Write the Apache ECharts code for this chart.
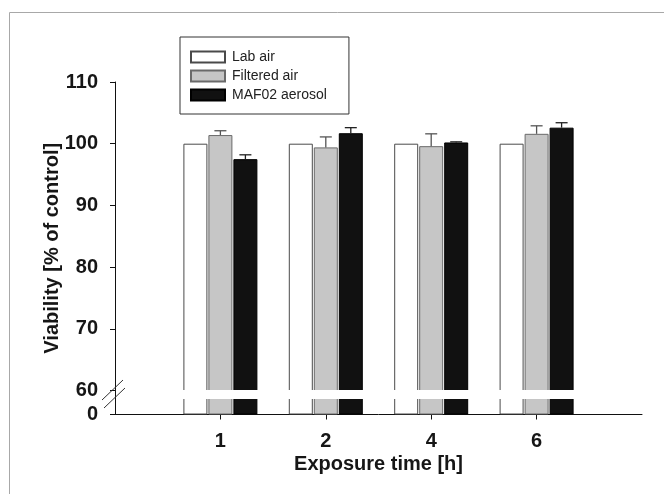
<!DOCTYPE html>
<html>
<head>
<meta charset="utf-8">
<script src="https://cdn.jsdelivr.net/npm/echarts@6/dist/echarts.min.js"></script>
<style>
html,body{margin:0;padding:0;background:#fff;}
#chart{width:664px;height:494px;}
</style>
</head>
<body>
<div id="chart"></div>
<script>
// ---- data ----
const categories = ['1', '2', '4', '6'];
const seriesNames = ['Lab air', 'Filtered air', 'MAF02 aerosol'];
const labAir = [100, 100, 100, 100];
const labAirErr = [0, 0, 0, 0];
const filteredAir = [101.4, 99.4, 99.6, 101.6];
const filteredAirErr = [0.7, 1.7, 2.0, 1.3];
const maf02 = [97.5, 101.7, 100.2, 102.6];
const maf02Err = [0.7, 0.9, 0.1, 0.8];
const yTicksTop = [60, 70, 80, 90, 100, 110];

// ---- styles ----
const FONT = "'Liberation Sans', Arial, sans-serif";
const TXT = '#161616';
const BAR_W = 24;
const BAR_GAP_PX = 1;
const styles = [
  { color: '#ffffff', borderColor: '#4a4a4a', borderWidth: 1 },
  { color: '#c6c6c6', borderColor: '#6a6a6a', borderWidth: 1 },
  { color: '#111111', borderColor: '#000000', borderWidth: 1 }
];
const errColors = ['#444', '#555', '#222'];

const values = [labAir, filteredAir, maf02];
const errs = [labAirErr, filteredAirErr, maf02Err];
// padded category axis (empty slots at both ends)
const xCats = [''].concat(categories, ['']);
const pad = arr => [null].concat(arr, [null]);

const chart = echarts.init(document.getElementById('chart'), null, { renderer: 'canvas' });

const GRID_LEFT = 115, GRID_RIGHT = 22;
const grids = [
  { left: GRID_LEFT, right: GRID_RIGHT, top: 82, height: 308.5 },   // 60-110 part
  { left: GRID_LEFT, right: GRID_RIGHT, top: 390.5, height: 24 },   // 0 part
  { left: GRID_LEFT, right: GRID_RIGHT, top: 82, height: 332.5 }    // carries y title
];

const xAxes = [
  { gridIndex: 0, type: 'category', data: xCats, boundaryGap: false, show: false },
  {
    gridIndex: 1, type: 'category', data: xCats, boundaryGap: false,
    axisLine: { lineStyle: { color: '#111', width: 1 } },
    axisTick: { show: true, length: 5, interval: (i) => i >= 1 && i <= categories.length, lineStyle: { color: '#111' } },
    axisLabel: { interval: 0, margin: 17, fontSize: 20, fontWeight: 'bold', color: TXT, fontFamily: FONT },
    name: 'Exposure time [h]', nameLocation: 'middle', nameGap: 40,
    nameTextStyle: { fontSize: 20, fontWeight: 'bold', color: TXT, fontFamily: FONT },
    splitLine: { show: false }
  },
  { gridIndex: 2, type: 'value', show: false }
];

const yAxes = [
  {
    gridIndex: 0, type: 'value', min: yTicksTop[0], max: yTicksTop[yTicksTop.length - 1], interval: 10,
    axisLine: { show: true, lineStyle: { color: '#111' } },
    axisTick: { show: true, length: 5, lineStyle: { color: '#111' } },
    axisLabel: { margin: 17, fontSize: 20, fontWeight: 'bold', color: TXT, fontFamily: FONT },
    splitLine: { show: false }
  },
  {
    gridIndex: 1, type: 'value', min: 0, max: 1, interval: 1,
    axisLine: { show: true, lineStyle: { color: '#111' } },
    axisTick: { show: true, length: 5, lineStyle: { color: '#111' } },
    axisLabel: { margin: 17, fontSize: 20, fontWeight: 'bold', color: TXT, fontFamily: FONT, showMaxLabel: false,
      formatter: v => (v === 0 ? '0' : '') },
    splitLine: { show: false }
  },
  {
    gridIndex: 2, type: 'value', show: true,
    axisLine: { show: false }, axisTick: { show: false }, axisLabel: { show: false }, splitLine: { show: false },
    name: 'Viability [% of control]', nameLocation: 'middle', nameGap: 53, nameRotate: 90,
    nameTextStyle: { fontSize: 20, fontWeight: 'bold', color: TXT, fontFamily: FONT }
  }
];

const series = [];
// bars in both grids
[0, 1].forEach(g => {
  seriesNames.forEach((name, k) => {
    series.push({
      type: 'bar', name, xAxisIndex: g, yAxisIndex: g,
      data: pad(values[k]),
      barWidth: BAR_W, barGap: (BAR_GAP_PX / BAR_W * 100) + '%',
      itemStyle: styles[k], clip: true,
      emphasis: { disabled: true }, animation: false
    });
  });
});
// error bars (upper only) in top grid
seriesNames.forEach((name, k) => {
  const data = values[k].map((v, i) => [i + 1, v, errs[k][i]]);
  series.push({
    type: 'custom', name: name + ' err', xAxisIndex: 0, yAxisIndex: 0, z: 5,
    data, animation: false, silent: true,
    renderItem: (params, api) => {
      const xi = api.value(0), v = api.value(1), e = api.value(2);
      if (!e) return null;
      const off = (k - 1) * (BAR_W + BAR_GAP_PX);
      const p0 = api.coord([xi, v]);
      const p1 = api.coord([xi, v + e]);
      const x = p0[0] + off;
      const st = { stroke: errColors[k], lineWidth: 1.3 };
      return {
        type: 'group',
        children: [
          { type: 'line', shape: { x1: x, y1: p0[1], x2: x, y2: p1[1] }, style: st },
          { type: 'line', shape: { x1: x - 6, y1: p1[1], x2: x + 6, y2: p1[1] }, style: st }
        ]
      };
    }
  });
});

const option = {
  backgroundColor: '#ffffff',
  animation: false,
  textStyle: { fontFamily: FONT },
  grid: grids,
  xAxis: xAxes,
  yAxis: yAxes,
  legend: {
    data: seriesNames.map(n => ({ name: n, icon: 'rect' })),
    orient: 'vertical',
    left: 180, top: 37,
    padding: [13, 22, 12, 10],
    itemWidth: 34, itemHeight: 11, itemGap: 5,
    borderColor: '#333', borderWidth: 1,
    textStyle: { fontSize: 14, color: '#222', fontFamily: FONT, padding: [0, 0, 0, 2] },
    selectedMode: false
  },
  graphic: [
    { type: 'rect', z: -10, shape: { x: 9.5, y: 12.5, width: 700, height: 600 },
      style: { fill: 'none', stroke: '#a8a8a8', lineWidth: 1 }, silent: true },
    { type: 'rect', z: 100, shape: { x: 116, y: 390, width: 525, height: 9 },
      style: { fill: '#ffffff' }, silent: true },
    { type: 'line', z: 101, shape: { x1: 102, y1: 400, x2: 123, y2: 380 },
      style: { stroke: '#333', lineWidth: 1 }, silent: true },
    { type: 'line', z: 101, shape: { x1: 104, y1: 408, x2: 125, y2: 388 },
      style: { stroke: '#333', lineWidth: 1 }, silent: true }
  ],
  series
};
chart.setOption(option);
</script>
</body>
</html>
